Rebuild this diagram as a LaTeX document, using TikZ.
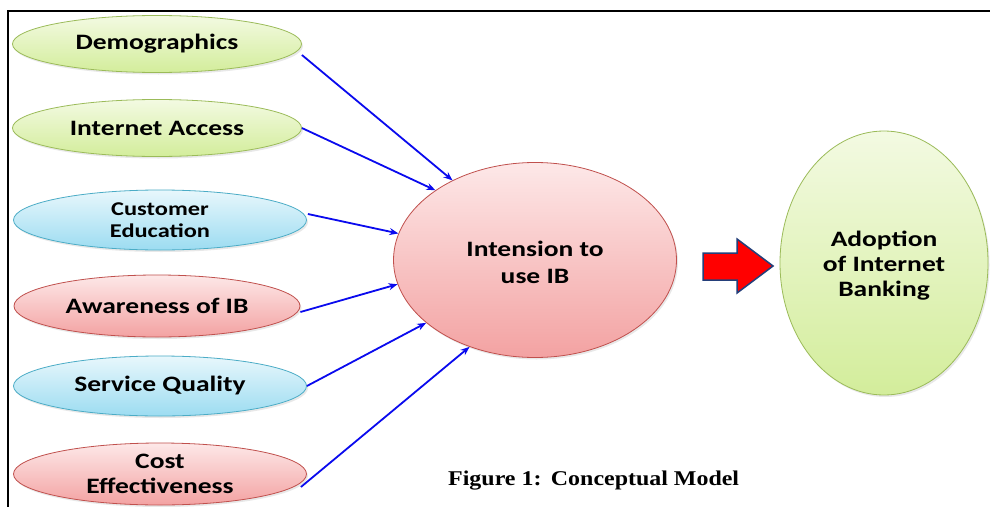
\documentclass[tikz,border=0pt]{standalone}
\usepackage{fontspec}
\setmainfont{Carlito}
\newfontfamily\nodefont[FakeStretch=1.25]{Carlito}
\newfontfamily\capfont[FakeStretch=1.14]{Liberation Serif}
\usetikzlibrary{arrows.meta,shapes.geometric,shadows}
\definecolor{gTop}{HTML}{F3FAE2}
\definecolor{gBot}{HTML}{D3ED9B}
\definecolor{gLine}{HTML}{9BBB59}
\definecolor{bTop}{HTML}{E8F7FC}
\definecolor{bBot}{HTML}{9CDCF1}
\definecolor{bLine}{HTML}{4BACC6}
\definecolor{rTop}{HTML}{FDE8E8}
\definecolor{rBot}{HTML}{F3A2A2}
\definecolor{rLine}{HTML}{C0504D}
\definecolor{arrBlue}{HTML}{0A0AEE}
\definecolor{bigRed}{HTML}{FF0000}
\definecolor{bigEdge}{HTML}{243F7A}
\tikzset{
  oval/.style={ellipse, draw, line width=0.8pt, inner sep=0pt,
    drop shadow={opacity=0.18, shadow xshift=1.5pt, shadow yshift=-2pt}},
  greenov/.style={oval, draw=gLine, top color=gTop, bottom color=gBot},
  blueov/.style={oval, draw=bLine, top color=bTop, bottom color=bBot},
  redov/.style={oval, draw=rLine, top color=rTop, bottom color=rBot},
  txt/.style={font=\nodefont\bfseries\fontsize{22}{25}\selectfont, align=center, text=black, inner sep=0pt},
  smalltxt/.style={txt, font=\nodefont\bfseries\fontsize{19.5}{22}\selectfont},
  bigtxt/.style={txt, font=\nodefont\bfseries\fontsize{22}{27}\selectfont},
  feed/.style={draw=arrBlue, line width=1.8pt, -{Stealth[length=9pt,width=7pt]}},
  bigarrow/.style={fill=bigRed, draw=bigEdge, line width=1.5pt, line join=miter},
  captxt/.style={font=\capfont\bfseries\fontsize{21}{24}\selectfont, inner sep=0pt}
}
\begin{document}
\begin{tikzpicture}[x=1pt, y=-1pt]
\useasboundingbox (0,0) rectangle (990,506);
\fill[white] (0,0) rectangle (990,506);
\draw[line width=2pt] (8,507) -- (8,11) -- (991,11);

\node[greenov, minimum width=289pt, minimum height=57pt, label={[txt]center:Demographics}] (demo) at (157,44) {};
\node[greenov, minimum width=289pt, minimum height=57pt, label={[txt]center:Internet Access}] (inet) at (157,128) {};
\node[blueov, minimum width=293pt, minimum height=60pt, label={[smalltxt]center:{Customer\\Education}}] (cust) at (160,220) {};
\node[redov, minimum width=286pt, minimum height=62pt, label={[txt]center:Awareness of IB}] (aware) at (157,306) {};
\node[blueov, minimum width=293pt, minimum height=60pt, label={[txt]center:Service Quality}] (serv) at (160,386) {};
\node[redov, minimum width=293pt, minimum height=62pt, label={[txt]center:{Cost\\Effectiveness}}] (cost) at (160,474) {};

\node[redov, minimum width=283pt, minimum height=195pt, label={[bigtxt, yshift=-2pt]center:{Intension to\\use IB}}] (int) at (535,260) {};
\node[greenov, minimum width=208pt, minimum height=264pt, label={[txt, yshift=-3pt]center:{Adoption\\of Internet\\Banking}}] (adopt) at (884,263) {};

\draw[feed] ([yshift=-11pt]demo.east) -- (int.136);
\draw[feed] (inet.east) -- (int.145);
\draw[feed] ([xshift=1pt,yshift=6pt]cust.east) -- (int.169);
\draw[feed] ([yshift=-6pt]aware.east) -- (int.190);
\draw[feed] (serv.east) -- (int.210);
\draw[feed] ([xshift=-6pt,yshift=-13pt]cost.east) -- (int.233);

\draw[bigarrow] (703,253) -- (737,253) -- (737,239) -- (773,266) -- (737,293) -- (737,280) -- (703,280) -- cycle;

\node[captxt, anchor=base west] (cap) at (448,485) {Figure 1:\hspace{0.45em}Conceptual Model};
\end{tikzpicture}
\end{document}
